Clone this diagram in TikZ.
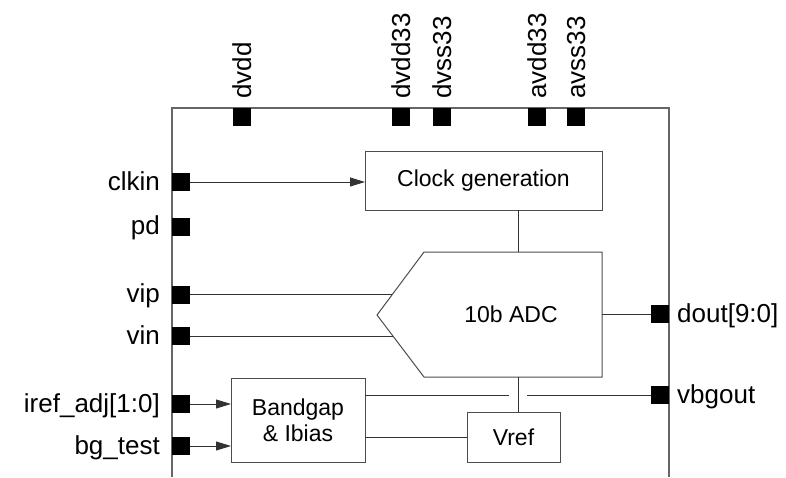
\documentclass[tikz,border=0pt]{standalone}
\usepackage{fontspec}
\setmainfont{Liberation Sans}
\usetikzlibrary{arrows.meta}
\begin{document}
\begin{tikzpicture}[x=1pt,y=-1pt,
  pin/.style={fill=black,draw=none,minimum size=18pt,inner sep=0pt,outer sep=0pt,rectangle},
  pinlbl/.style={inner sep=0pt,font=\fontsize{26}{30}\selectfont},
  block/.style={draw=black!70,line width=1pt,rectangle,inner sep=0pt,outer sep=0pt,align=center,font=\fontsize{23}{26}\selectfont},
  wire/.style={draw=black!80,line width=1pt},
  arr/.style={wire,-{Triangle[length=15pt,width=9pt]}},
  chip/.style={draw=black!60,line width=1.6pt}]
\useasboundingbox (0,0) rectangle (786,477);
% chip outline
\draw[chip] (172,477) -- (172,108) -- (669,108) -- (669,477);
% top pins
\foreach \n/\x in {dvdd/242,dvdd33/401,dvss33/442,avdd33/537,avss33/576}{
  \node[pin] (p-\n) at (\x,117) {};
  \node[pinlbl,rotate=90,anchor=base west] (l-\n) at (\x+9,99) {\n};
}
% left pins
\foreach \n/\t/\y in {clkin/clkin/182,pd/pd/226.5,vip/vip/294.5,vin/vin/336,iref/iref\_adj[1:0]/404,bgt/bg\_test/446}{
  \node[pin] (p-\n) at (181,\y) {};
  \node[pinlbl,anchor=base east] (l-\n) at (160,\y+8) {\t};
}
% right pins
\foreach \n/\t/\y in {dout/dout[9:0]/314,vbg/vbgout/395}{
  \node[pin] (p-\n) at (660,\y) {};
  \node[pinlbl,anchor=base west] (l-\n) at (677,\y+8) {\t};
}
% blocks
\node[block,minimum width=237pt,minimum height=59pt] (clk) at (483.5,180.5) {Clock generation};
\node[block,minimum width=134pt,minimum height=84pt] (bg) at (298,420) {Bandgap\\\& Ibias};
\node[block,minimum width=93pt,minimum height=50pt] (vref) at (513.5,437) {Vref};
% ADC
\coordinate (adc1) at (424,252);
\coordinate (adc2) at (602,252);
\coordinate (adc3) at (602,377);
\coordinate (adc4) at (424,377);
\coordinate (adctip) at (377,315);
\draw[draw=black!70,line width=1pt] (adc1) -- (adc2) -- (adc3) -- (adc4) -- (adctip) -- cycle;
\node[font=\fontsize{23}{26}\selectfont,inner sep=0pt] (adc) at (511,314) {10b ADC};
\coordinate (adcR) at (602,314);
\coordinate (vipIn) at (392.3,294.5);
\coordinate (vinIn) at (392.9,336);
\coordinate (vx) at (518,0);
\coordinate (gapL) at (509,395);
\coordinate (gapR) at (527,395);
% connectors
\draw[arr] (p-clkin.east) -- (clk.west |- p-clkin);
\draw[wire] (p-vip.east) -- (vipIn);
\draw[wire] (p-vin.east) -- (vinIn);
\draw[wire] (adcR) -- (p-dout.west);
\draw[wire] (clk.south -| vx) -- (adc1 -| vx);
\draw[wire] (adc4 -| vx) -- (vref.north -| vx);
\draw[arr] (p-iref.east) -- (bg.west |- p-iref);
\draw[arr] (p-bgt.east) -- (bg.west |- p-bgt);
\draw[wire] (bg.east |- gapL) -- (gapL);
\draw[wire] (gapR) -- (p-vbg.west);
\draw[wire] (bg.east |- vref.west) -- (vref.west);
\end{tikzpicture}
\end{document}
